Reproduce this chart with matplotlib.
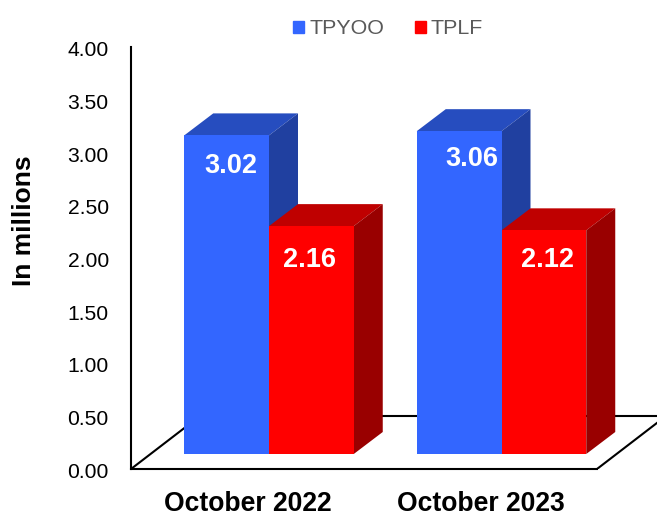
import matplotlib; matplotlib.use("Agg")
import matplotlib.pyplot as plt
from matplotlib.patches import Polygon, Patch
from matplotlib.transforms import ScaledTranslation

plt.rcParams['font.family'] = ['Liberation Sans', 'DejaVu Sans']

categories = ["October 2022", "October 2023"]
tpyoo = [3.02, 3.06]
tplf = [2.16, 2.12]
yticks = [0.0, 0.5, 1.0, 1.5, 2.0, 2.5, 3.0, 3.5, 4.0]

W, H = 657, 513
# one category = 232.5 px, one unit = 105.5 px
xunit = 232.5
yunit = 105.5
barw = 84.75 / xunit
dx = 29 / xunit     # depth of a bar
dy = 22 / yunit
base = 15 / yunit   # bars stand a bit inside the floor
floor_dy = 53 / yunit
floor_dx = 69 / xunit

fig = plt.figure(figsize=(W / 100, H / 100), dpi=100)
ax = fig.add_axes([131 / W, 1 - 469 / H, (W - 131) / W, 422 / H])
ax.set_xlim(-138 / xunit, (W - 269) / xunit)
ax.set_ylim(0, 4)


def bar3d(x, value, front, top, side):
    left = x
    right = x + barw
    y0 = base
    y1 = base + value
    ax.bar(x, value, barw, bottom=base, align='edge', color=front, zorder=5)
    ax.add_patch(Polygon([(left, y1), (right, y1), (right + dx, y1 + dy), (left + dx, y1 + dy)],
                         closed=True, fc=top, ec='none', zorder=4))
    ax.add_patch(Polygon([(right, y0), (right + dx, y0 + dy), (right + dx, y1 + dy), (right, y1)],
                         closed=True, fc=side, ec='none', zorder=4))


# floor
x_left = ax.get_xlim()[0]
x_right = ax.get_xlim()[1]
x_front_end = (597 - 269) / xunit
ax.plot([x_left, x_front_end], [0, 0], color='black', lw=1.5, clip_on=False, zorder=2, solid_capstyle='projecting')
ax.plot([x_left, x_left + floor_dx], [0, floor_dy], color='black', lw=1.5, zorder=2)
ax.plot([x_left + floor_dx, x_right], [floor_dy, floor_dy], color='black', lw=1.5, zorder=2)
ax.plot([x_front_end, x_front_end + floor_dx], [0, floor_dy], color='black', lw=1.5, zorder=2)

# tpyoo drawn first so the red side sits over it
for i in range(2):
    bar3d(i - barw, tpyoo[i], '#3366FF', '#264DBF', '#2040A0')
for i in range(2):
    bar3d(i, tplf[i], '#FF0000', '#BF0000', '#990000')

# value labels, hand placed like in the original
label_dx = [4, 12.5]
label_dy = [28, 25]
red_dx = [-1.5, 3.5]
red_dy = [31, 27]
for i in range(2):
    ax.annotate(f"{tpyoo[i]:.2f}", (i - barw / 2, base + tpyoo[i]), xytext=(label_dx[i], -label_dy[i]),
                textcoords=('offset pixels'), ha='center', va='center_baseline', color='white',
                fontsize=19.5, fontweight='bold', zorder=6)
    ax.annotate(f"{tplf[i]:.2f}", (i + barw / 2, base + tplf[i]), xytext=(red_dx[i], -red_dy[i]),
                textcoords=('offset pixels'), ha='center', va='center_baseline', color='white',
                fontsize=19.5, fontweight='bold', zorder=6)

for s in ['top', 'right', 'bottom']:
    ax.spines[s].set_visible(False)
ax.spines['left'].set_linewidth(1.5)
ax.patch.set_alpha(0)

ax.set_yticks(yticks)
ax.set_yticklabels([f"{v:.2f}" for v in yticks], fontsize=15.2, color='black')
ax.tick_params(axis='y', length=0, pad=16)
# labels sit a little lower than the ticks in the original
shift = ScaledTranslation(0, -1.5 / 100, fig.dpi_scale_trans)
for lab in ax.get_yticklabels():
    lab.set_transform(lab.get_transform() + shift)
ax.set_xticks([i - 21 / xunit for i in range(2)])
ax.set_xticklabels(categories, fontsize=19.1, fontweight='bold', color='black')
ax.tick_params(axis='x', length=0, pad=16)

fig.text(24.5 / W, 1 - 221 / H, "In millions", rotation=90, ha='center', va='center',
         fontsize=19, fontweight='bold', color='black')

handles = [Patch(color='#3366FF', label='TPYOO'), Patch(color='#FF0000', label='TPLF')]
fig.legend(handles=handles, loc='center', bbox_to_anchor=(388 / W, 1 - 29 / H), ncol=2, frameon=False,
           fontsize=15.4, labelcolor='#595959', handlelength=0.52, handleheight=0.52,
           handletextpad=0.24, columnspacing=1.43, borderpad=0, borderaxespad=0)

fig.savefig("out.png", dpi=100)
